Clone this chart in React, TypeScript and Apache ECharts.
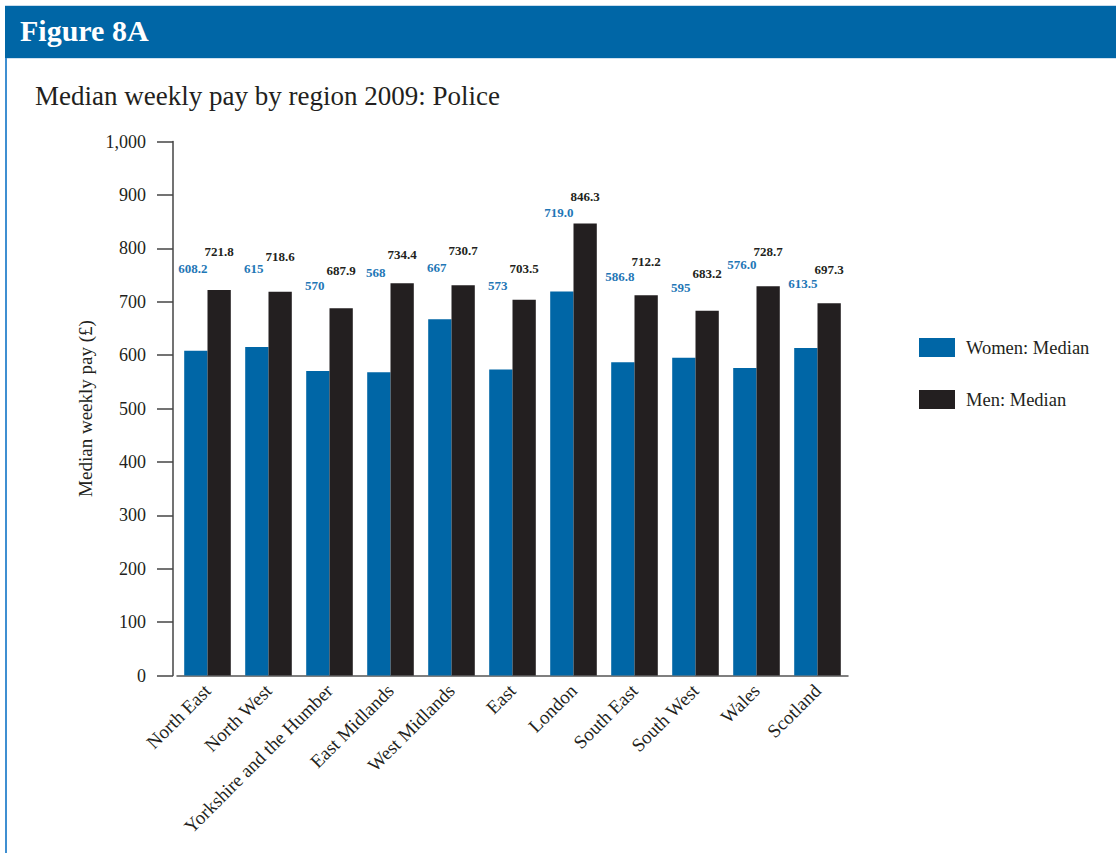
import React, { useEffect, useRef } from "react";
import * as echarts from "echarts";

const regions = [
  "North East",
  "North West",
  "Yorkshire and the Humber",
  "East Midlands",
  "West Midlands",
  "East",
  "London",
  "South East",
  "South West",
  "Wales",
  "Scotland",
];
const womenMedian = [608.2, 615, 570, 568, 667, 573, 719.0, 586.8, 595, 576.0, 613.5];
const menMedian = [721.8, 718.6, 687.9, 734.4, 730.7, 703.5, 846.3, 712.2, 683.2, 728.7, 697.3];
const womenLabels = ["608.2", "615", "570", "568", "667", "573", "719.0", "586.8", "595", "576.0", "613.5"];
const menLabels = ["721.8", "718.6", "687.9", "734.4", "730.7", "703.5", "846.3", "712.2", "683.2", "728.7", "697.3"];
const seriesNames = ["Women: Median", "Men: Median"];
const yMin = 0;
const yMax = 1000;
const yStep = 100;

// label lift above the bar top (styling, px)
const womenLabelLift = [76, 72, 79, 93, 45, 78, 73, 79, 64, 97, 58];
const menLabelLift = [32, 29, 31, 22, 28, 25, 21, 27, 31, 28, 27];

const FONT = "'Liberation Serif', 'Times New Roman', Times, serif";
const BLUE = "#0066a6";
const DARK = "#231f20";
const LABEL_BLUE = "#1f77b6";

export default function App() {
  const ref = useRef<HTMLDivElement>(null);

  useEffect(() => {
    if (!ref.current) return;
    const chart = echarts.init(ref.current, null, { renderer: "svg" });
    const option = {
      animation: false,
      backgroundColor: "#ffffff",
      textStyle: { fontFamily: FONT },
      title: {
        text: "Median weekly pay by region 2009: Police",
        left: 30,
        top: 77,
        textStyle: { fontFamily: FONT, fontSize: 27, fontWeight: "normal", color: DARK },
      },
      graphic: [
        { type: "rect", shape: { x: 5, y: 5, width: 1111, height: 1 }, style: { fill: "#c9dcec" } },
        { type: "rect", shape: { x: 5, y: 6, width: 1111, height: 52 }, style: { fill: BLUE } },
        { type: "rect", shape: { x: 5, y: 58, width: 1111, height: 1 }, style: { fill: "#cfe1f0" } },
        { type: "rect", shape: { x: 5, y: 58, width: 2, height: 795 }, style: { fill: "#3f8fd1" } },
        {
          type: "text",
          left: 20,
          top: 15,
          style: { text: "Figure 8A", fill: "#ffffff", font: `bold 30px ${FONT}` },
        },
      ],
      legend: {
        orient: "vertical",
        left: 914,
        top: 333,
        itemWidth: 36,
        itemHeight: 19,
        itemGap: 33,
        icon: "rect",
        data: seriesNames,
        textStyle: { fontFamily: FONT, fontSize: 18.5, color: DARK, padding: [0, 0, 0, 6] },
      },
      grid: { left: 177, top: 141.5, width: 671, height: 534, containLabel: false },
      xAxis: {
        type: "category",
        data: regions,
        axisLine: { show: true, lineStyle: { color: "#555555", width: 1.5 } },
        axisTick: { show: false },
        axisLabel: {
          rotate: 45,
          interval: 0,
          margin: 12,
          fontFamily: FONT,
          fontSize: 19,
          color: DARK,
        },
      },
      yAxis: {
        type: "value",
        min: yMin,
        max: yMax,
        interval: yStep,
        offset: 4,
        name: "Median weekly pay (£)",
        nameLocation: "middle",
        nameGap: 78,
        nameRotate: 90,
        nameTextStyle: { fontFamily: FONT, fontSize: 19, color: DARK },
        splitLine: { show: false },
        axisLine: { show: true, lineStyle: { color: "#444444", width: 1.5 } },
        axisTick: { show: true, inside: false, length: 16, lineStyle: { color: "#444444", width: 1.5 } },
        axisLabel: {
          margin: 27,
          fontFamily: FONT,
          fontSize: 18,
          color: DARK,
          formatter: (v: number) => v.toLocaleString("en-GB"),
        },
      },
      series: [
        {
          name: seriesNames[0],
          type: "bar",
          barWidth: 23.3,
          barGap: "0%",
          itemStyle: { color: BLUE },
          data: womenMedian.map((v, i) => ({
            value: v,
            label: {
              show: true,
              position: "top",
              distance: womenLabelLift[i],
              offset: [-3, 0],
              formatter: womenLabels[i],
              fontFamily: FONT,
              fontSize: 13,
              fontWeight: "bold",
              color: LABEL_BLUE,
            },
          })),
        },
        {
          name: seriesNames[1],
          type: "bar",
          barWidth: 23.3,
          barGap: "0%",
          itemStyle: { color: DARK },
          data: menMedian.map((v, i) => ({
            value: v,
            label: {
              show: true,
              position: "top",
              distance: menLabelLift[i],
              formatter: menLabels[i],
              fontFamily: FONT,
              fontSize: 13,
              fontWeight: "bold",
              color: DARK,
            },
          })),
        },
      ],
    };
    chart.setOption(option as any);
    return () => chart.dispose();
  }, []);

  return (
    <div
      ref={ref}
      style={{ position: "fixed", left: 0, top: 0, width: 1116, height: 853, background: "#ffffff" }}
    />
  );
}
